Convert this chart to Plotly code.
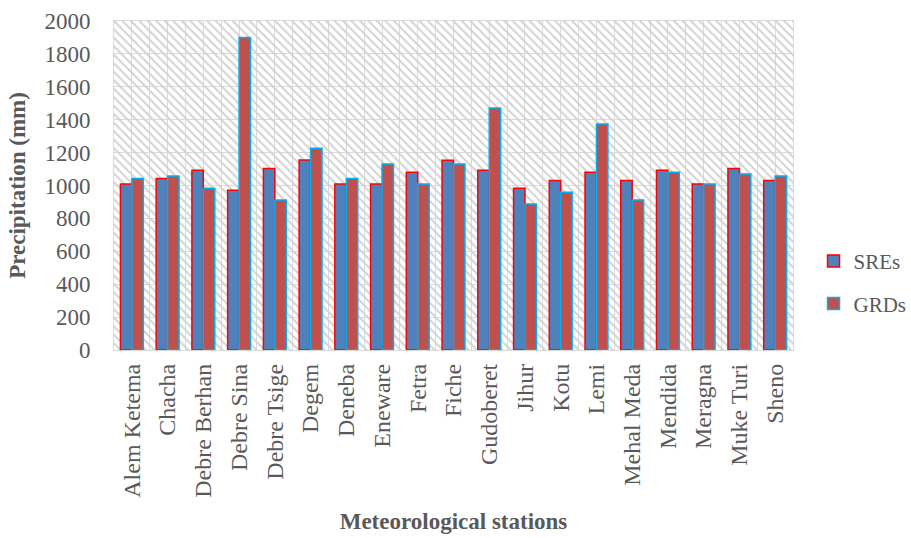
import plotly.graph_objects as go

# Annual precipitation (mm) per meteorological station
stations = [
    "Alem Ketema", "Chacha", "Debre Berhan", "Debre Sina", "Debre Tsige",
    "Degem", "Deneba", "Eneware", "Fetra", "Fiche", "Gudoberet", "Jihur",
    "Kotu", "Lemi", "Mehal Meda", "Mendida", "Meragna", "Muke Turi", "Sheno",
]
sres = [1009, 1043, 1092, 971, 1104, 1155, 1009, 1009, 1080, 1153, 1092, 983,
        1031, 1080, 1031, 1092, 1009, 1104, 1031]
grds = [1043, 1058, 983, 1899, 912, 1226, 1043, 1131, 1009, 1131, 1471, 888,
        959, 1374, 912, 1080, 1009, 1070, 1058]

y_ticks = list(range(0, 2001, 200))
Y_MAX = 2000
HALF_SLOTS = 2 * len(stations)  # background grid columns (two per station)

TXT = "#595959"
GRID = "#D9D9D9"
FONT = "Liberation Serif"

fig = go.Figure()

# hatched plot-area background on the base (hidden) axis
fig.add_trace(go.Bar(
    x=[HALF_SLOTS / 2], y=[Y_MAX], width=[HALF_SLOTS],
    xaxis="x", yaxis="y",
    marker=dict(color="rgba(0,0,0,0)", line=dict(width=0),
                pattern=dict(shape="\\", fgcolor="#D2D2D2",
                             bgcolor="rgba(0,0,0,0)", size=6,
                             solidity=0.33, fillmode="replace")),
    showlegend=False, hoverinfo="skip",
))

fig.add_trace(go.Bar(
    name="SREs", x=stations, y=sres, xaxis="x2", yaxis="y",
    legendgroup="a",
    marker=dict(color="#4F81BD", line=dict(color="#FF0000", width=1.5)),
))
fig.add_trace(go.Bar(
    name="GRDs", x=stations, y=grds, xaxis="x2", yaxis="y",
    legendgroup="b",
    marker=dict(color="#C0504D", line=dict(color="#00B0F0", width=1.5)),
))

fig.update_layout(
    width=911, height=538,
    margin=dict(l=114, r=118, t=21, b=188),
    paper_bgcolor="white", plot_bgcolor="white",
    font=dict(family=FONT, size=23, color=TXT),
    barmode="group", bargap=0.36, bargroupgap=0,
    xaxis=dict(
        range=[0, HALF_SLOTS], dtick=1, showgrid=True, gridcolor=GRID,
        gridwidth=1, showticklabels=False, ticks="", zeroline=False,
        showline=True, mirror=True, linecolor=GRID, fixedrange=True,
        automargin=False,
    ),
    xaxis2=dict(
        type="category", overlaying="x", side="bottom", showgrid=False,
        tickangle=-90, ticks="", ticklabelstandoff=8, automargin=False,
        tickfont=dict(family=FONT, size=24, color=TXT),
        title=dict(text="<b>Meteorological stations</b>", standoff=16,
                   font=dict(family=FONT, size=23, color=TXT)),
    ),
    yaxis=dict(
        range=[0, Y_MAX], tickvals=y_ticks, showgrid=True, gridcolor=GRID,
        gridwidth=1, zeroline=False, ticks="", ticklabelstandoff=18,
        showline=True, mirror=True, linecolor=GRID, automargin=False,
        tickfont=dict(family=FONT, size=23, color=TXT),
        title=dict(text="<b>Precipitation (mm)</b>", standoff=12,
                   font=dict(family=FONT, size=23, color=TXT)),
    ),
    legend=dict(
        xref="container", yref="container",
        x=0.893, xanchor="left", y=0.475, yanchor="middle",
        traceorder="grouped", tracegroupgap=12,
        font=dict(family=FONT, size=21, color=TXT),
        itemwidth=30, bgcolor="rgba(0,0,0,0)",
    ),
    showlegend=True,
)

fig.write_html("out.html")
